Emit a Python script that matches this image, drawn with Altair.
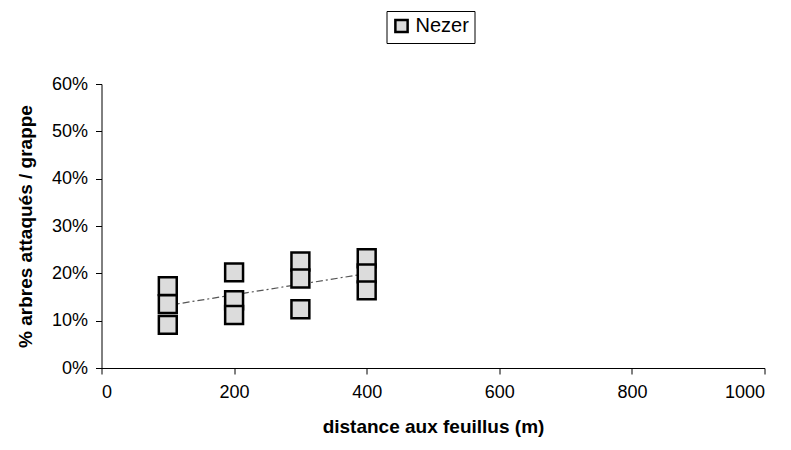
import altair as alt
import pandas as pd

distance = [100, 100, 100, 200, 200, 200, 300, 300, 300, 400, 400, 400]
attaques = [0.173, 0.135, 0.091, 0.202, 0.143, 0.112, 0.225, 0.189, 0.124, 0.232, 0.200, 0.164]
site = ["Nezer"] * len(distance)
x_ticks = [0, 200, 400, 600, 800, 1000]
y_ticks = [0, 0.1, 0.2, 0.3, 0.4, 0.5, 0.6]

df = pd.DataFrame({"distance": distance, "attaques": attaques, "site": site})

FONT = "Liberation Sans"

x_enc = alt.X("distance:Q", scale=alt.Scale(domain=[0, 1000], nice=False),
              axis=alt.Axis(values=x_ticks, format="d", labelPadding=9, titlePadding=16,
                            title="distance aux feuillus (m)"))
y_enc = alt.Y("attaques:Q", scale=alt.Scale(domain=[0, 0.6], nice=False),
              axis=alt.Axis(values=y_ticks, format=".0%", labelPadding=8, titlePadding=16,
                            title="% arbres attaqués / grappe"))

points = alt.Chart(df).mark_point(
    shape="square", filled=True, size=320, stroke="black", strokeWidth=2.5, opacity=1
).encode(
    x=x_enc, y=y_enc,
    fill=alt.Fill("site:N", scale=alt.Scale(range=["#dcdcdc"]),
                  legend=alt.Legend(title=None, orient="none", legendX=285, legendY=-73,
                                    symbolType="square", symbolSize=150,
                                    symbolStrokeColor="black", symbolStrokeWidth=2.5,
                                    strokeColor="black", padding=5,
                                    labelFont=FONT, labelFontSize=20, labelColor="black",
                                    fillColor="white"))
)

trend = alt.Chart(df).transform_regression("distance", "attaques").mark_line(
    color="#555555", strokeWidth=1.2, strokeDash=[7, 3, 2, 3]
).encode(x="distance:Q", y="attaques:Q")

chart = alt.layer(trend, points).properties(
    width=663, height=284,
    autosize=alt.AutoSizeParams(type="none"),
    padding={"left": 93.5, "top": 76, "right": 10, "bottom": 70},
).configure_view(stroke=None).configure_axis(
    grid=False, domainColor="black", tickColor="black", tickSize=6,
    labelFont=FONT, labelFontSize=18, labelColor="black",
    titleFont=FONT, titleFontSize=19, titleFontWeight="bold", titleColor="black",
)

chart.save("out.html", embed_options={"renderer": "svg", "actions": False})
